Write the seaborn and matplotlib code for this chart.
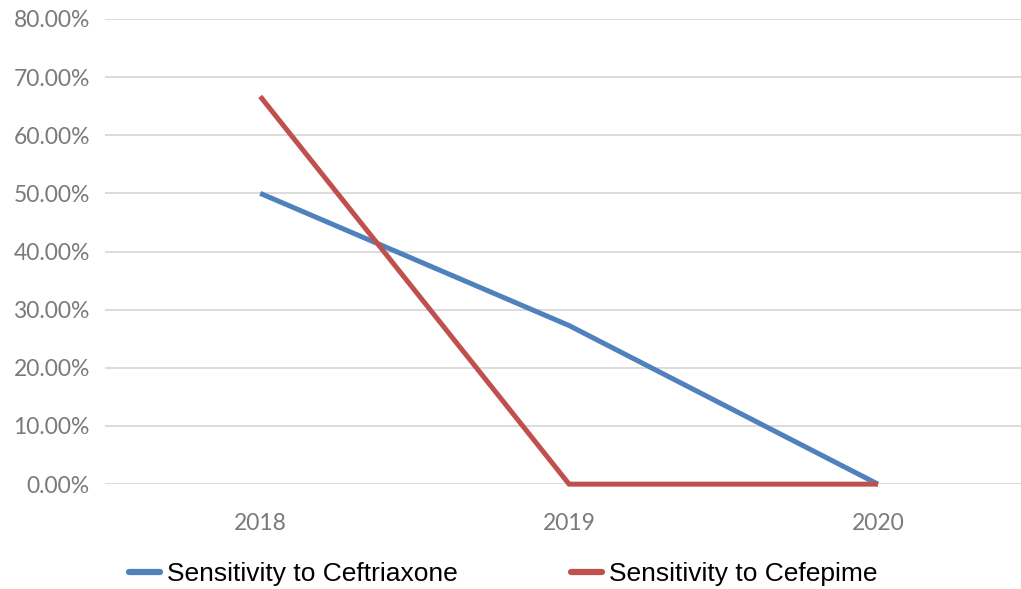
import matplotlib
matplotlib.use("Agg")
import matplotlib.pyplot as plt
from matplotlib.ticker import PercentFormatter
import pandas as pd
import seaborn as sns

years = ["2018", "2019", "2020"]
ceftriaxone = [0.50, 0.2727, 0.0]
cefepime = [0.6667, 0.0, 0.0]
series_names = ["Sensitivity to Ceftriaxone", "Sensitivity to Cefepime"]
y_ticks = [0.0, 0.1, 0.2, 0.3, 0.4, 0.5, 0.6, 0.7, 0.8]

palette = ["#4F81BD", "#C0504D"]

df = pd.DataFrame({
    "year": years * 2,
    "value": ceftriaxone + cefepime,
    "series": [series_names[0]] * 3 + [series_names[1]] * 3,
})

sns.set_theme(style="white")
tick_font = "Lato"
legend_font = "Liberation Sans"

fig = plt.figure(figsize=(10.21, 5.89), dpi=100)
ax = fig.add_axes([0.103, 0.178, 0.897, 0.790])

sns.lineplot(data=df, x="year", y="value", hue="series", palette=palette,
             linewidth=3.6, ax=ax, legend=False, sort=False)
for ln in ax.get_lines():
    ln.set_clip_on(False)
    ln.set_solid_capstyle("butt")
    ln.set_solid_joinstyle("miter")

ax.set_xlim(-0.502, 2.463)
ax.set_ylim(0, 0.8)
ax.set_yticks(y_ticks)
ax.yaxis.set_major_formatter(PercentFormatter(1.0, decimals=2))
ax.grid(axis="y", color="#d9d9d9", linewidth=1.3)
ax.set_axisbelow(True)
for s in ax.spines.values():
    s.set_visible(False)
ax.set_xlabel("")
ax.set_ylabel("")
ax.tick_params(axis="y", length=0, pad=11, labelsize=16.5, labelcolor="#7a7a7a")
ax.tick_params(axis="x", length=0, pad=21, labelsize=16.5, labelcolor="#7a7a7a")
for lab in ax.get_xticklabels() + ax.get_yticklabels():
    lab.set_fontfamily(tick_font)

handles = [plt.Line2D([], [], color=c, linewidth=4.5) for c in palette]
fig.legend(handles, series_names, loc="center", bbox_to_anchor=(0.493, 0.025),
           ncol=2, frameon=False, handlelength=1.15, handletextpad=0.28,
           columnspacing=4.3, labelcolor="black",
           prop={"family": legend_font, "size": 19})

fig.savefig("out.png", dpi=100, facecolor="white")
